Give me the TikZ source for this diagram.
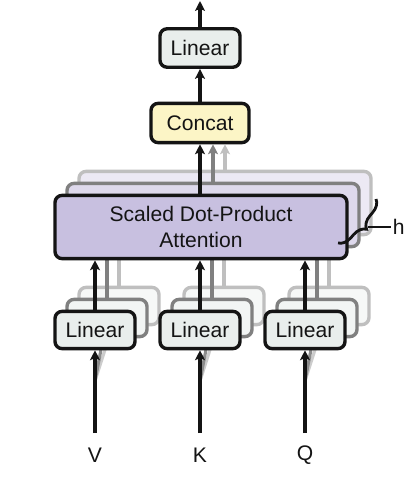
\documentclass[tikz,border=0pt]{standalone}
\usepackage{fontspec}
\setmainfont{Liberation Sans}
\usetikzlibrary{positioning, arrows.meta, decorations.pathreplacing}
\definecolor{LinFill}{RGB}{233, 238, 236}
\definecolor{ConcatFill}{RGB}{252, 245, 198}
\definecolor{AttnFill}{RGB}{200, 192, 224}
\definecolor{Ink}{RGB}{20, 20, 20}

\begin{document}
\begin{tikzpicture}[
    block/.style={rounded corners=5pt, draw=Ink, line width=2.4pt, text=Ink, inner sep=0pt, align=center, font=\fontsize{15}{19}\selectfont},
    linbox/.style={block, fill=LinFill, minimum width=2.0cm, minimum height=0.93cm},
    backA/.style={draw=black!50},
    backB/.style={draw=black!25},
    flow/.style={line width=2.2pt, draw=Ink, -{Stealth[length=7pt, width=7pt, inset=1.5pt]}},
    label/.style={text=Ink, inner sep=1pt, font=\fontsize{15}{19}\selectfont}
]
    \useasboundingbox (0,0) rectangle (10.175,12.025);

    % inputs
    \coordinate (inV) at (2.375,1.2);
    \coordinate (inK) at (5.0,1.2);
    \coordinate (inQ) at (7.625,1.2);
    \coordinate (splitV) at (2.375,2.5);
    \coordinate (splitK) at (5.0,2.5);
    \coordinate (splitQ) at (7.625,2.5);
    \node[label] (v) at (2.375,0.65) {V};
    \node[label] (k) at (5.0,0.65) {K};
    \node[label] (q) at (7.625,0.65) {Q};

    % hidden heads: linear layers
    \node[linbox, backB, fill=LinFill!40] (linV3) at (2.975,4.375) {};
    \node[linbox, backB, fill=LinFill!40] (linK3) at (5.6,4.375) {};
    \node[linbox, backB, fill=LinFill!40] (linQ3) at (8.225,4.375) {};
    \node[linbox, backA, fill=LinFill!60] (linV2) at (2.675,4.075) {};
    \node[linbox, backA, fill=LinFill!60] (linK2) at (5.3,4.075) {};
    \node[linbox, backA, fill=LinFill!60] (linQ2) at (7.925,4.075) {};

    \draw[line width=2.2pt, black!20] (splitV) -- (linV3) (splitK) -- (linK3) (splitQ) -- (linQ3);
    \draw[line width=2.2pt, black!45] (splitV) -- (linV2) (splitK) -- (linK2) (splitQ) -- (linQ2);

    \node[linbox] (linV) at (2.375,3.775) {Linear};
    \node[linbox] (linK) at (5.0,3.775) {Linear};
    \node[linbox] (linQ) at (7.625,3.775) {Linear};

    \draw[flow] (inV) -- (linV);
    \draw[flow] (inK) -- (linK);
    \draw[flow] (inQ) -- (linQ);

    % attention heads
    \node[block, backB, fill=AttnFill!35, minimum width=7.3cm, minimum height=1.58cm] (sdpa3) at (5.625,6.95) {};
    \draw[line width=2.2pt, black!25] (linV3) -- (linV3 |- sdpa3.south) (linK3) -- (linK3 |- sdpa3.south) (linQ3) -- (linQ3 |- sdpa3.south);
    \node[block, backA, fill=AttnFill!60, minimum width=7.3cm, minimum height=1.58cm] (sdpa2) at (5.325,6.65) {};
    \draw[line width=2.2pt, black!50] (linV2) -- (linV2 |- sdpa2.south) (linK2) -- (linK2 |- sdpa2.south) (linQ2) -- (linQ2 |- sdpa2.south);
    \node[block, fill=AttnFill, minimum width=7.3cm, minimum height=1.58cm] (sdpa) at (5.025,6.35) {Scaled Dot-Product\\Attention};

    \draw[flow] (linV) -- (linV |- sdpa.south);
    \draw[flow] (linK) -- (linK |- sdpa.south);
    \draw[flow] (linQ) -- (linQ |- sdpa.south);

    % h heads
    \draw[line width=2pt, Ink, decorate, decoration={brace, amplitude=9pt}] (9.4,7.05) -- (8.45,5.95);
    \coordinate (brace-tip) at (9.2,6.35);
    \node[label] (h) at (9.97,6.35) {h};
    \draw[line width=1.6pt, Ink] (brace-tip) -- (h.west);

    % output
    \node[block, fill=ConcatFill, minimum width=2.45cm, minimum height=0.98cm] (concat) at (5.0,8.95) {Concat};
    \node[block, fill=LinFill, minimum width=2.0cm, minimum height=0.96cm] (lin-out) at (5.0,10.825) {Linear};
    \coordinate (out) at (5.0,12.0);

    \draw[flow, draw=black!25] (sdpa3.north) -- (sdpa3.north |- concat.south);
    \draw[flow, draw=black!50] (sdpa2.north) -- (sdpa2.north |- concat.south);
    \draw[flow] (concat |- sdpa.north) -- (concat);
    \draw[flow] (concat) -- (lin-out);
    \draw[flow] (lin-out) -- (out);
\end{tikzpicture}
\end{document}
